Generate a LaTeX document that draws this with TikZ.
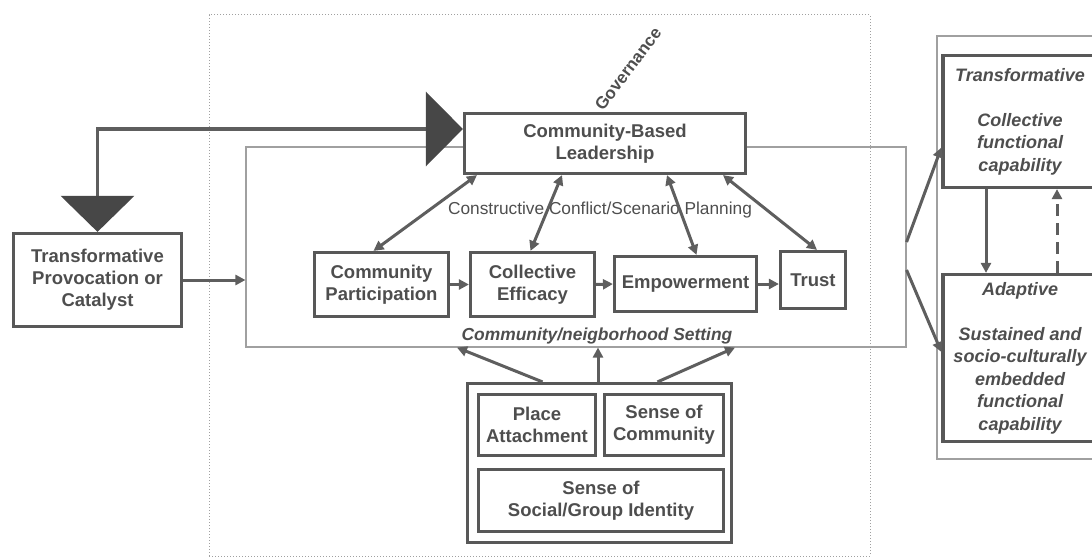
\documentclass[tikz,border=0pt]{standalone}
\usepackage{fontspec}
\setmainfont{Liberation Sans}
\usetikzlibrary{arrows.meta,calc}
\definecolor{ink}{HTML}{4E4E4E}
\definecolor{boxc}{HTML}{585858}
\definecolor{arrc}{HTML}{5E5E5E}
\definecolor{tric}{HTML}{474747}
\definecolor{thinc}{HTML}{A0A0A0}
\definecolor{dotc}{HTML}{A0A0A0}
\begin{document}
\begin{tikzpicture}[x=1pt,y=-1pt,
  bx/.style={draw=boxc,fill=white,line width=3.2pt,text=ink,
    font=\fontsize{18.5}{22}\selectfont\bfseries,align=center,inner sep=0pt},
  ibx/.style={bx,font=\fontsize{18}{22.5}\selectfont\bfseries\itshape},
  frame/.style={draw=thinc,line width=1.1pt,inner sep=0pt},
  conn/.style={draw=arrc,line width=3pt,-{Triangle[length=10pt,width=10pt]}},
  dconn/.style={draw=arrc,line width=3pt,{Triangle[length=10pt,width=10pt]}-{Triangle[length=10pt,width=10pt]}},
  bigconn/.style={draw=arrc,line width=3.5pt,
    {Triangle[length=36pt,width=73pt,color=tric]}-{Triangle[length=37pt,width=74pt,color=tric]}},
  lbl/.style={text=ink,inner sep=0pt}
]
\useasboundingbox (0,0) rectangle (1092,559);
\clip (0,0) rectangle (1092,559);

% frames
\node[draw=dotc,dotted,line width=1pt,inner sep=0pt,minimum width=661pt,minimum height=541pt] (outer) at (539.5,285.5) {};
\node[frame,minimum width=660pt,minimum height=200pt] (setting) at (576,247) {};
\node[frame,minimum width=166pt,minimum height=423pt] (rframe) at (1020,247.5) {};

% main boxes
\node[bx,minimum width=168pt,minimum height=93pt] (catalyst) at (97.5,280) {Transformative\\Provocation or\\Catalyst};
\node[bx,minimum width=281pt,minimum height=60pt] (lead) at (605,143.5) {Community-Based\\Leadership};
\node[bx,minimum width=134pt,minimum height=64pt] (part) at (381.5,284.5) {Community\\Participation};
\node[bx,minimum width=124pt,minimum height=64pt] (eff) at (532.5,284.5) {Collective\\Efficacy};
\node[bx,minimum width=142pt,minimum height=55pt] (emp) at (685.5,284) {Empowerment};
\node[bx,minimum width=65pt,minimum height=57pt] (trust) at (813,280) {Trust};

% bottom group
\node[bx,minimum width=264pt,minimum height=159pt] (roots) at (599.5,463) {};
\node[bx,minimum width=117pt,minimum height=61pt] (place) at (537,425) {Place\\Attachment};
\node[bx,minimum width=119pt,minimum height=61pt] (soc) at (664,425) {Sense of\\Community};
\node[bx,minimum width=245pt,minimum height=62pt] (ident) at (601,500.5) {Sense of\\Social/Group Identity};

% right boxes
\node[ibx,minimum width=154pt,minimum height=132pt] (trans) at (1020,121.5) {Transformative\\[22.5pt]Collective\\functional\\capability};
\node[ibx,minimum width=154pt,minimum height=167pt] (adapt) at (1020,358) {Adaptive\\[22.5pt]Sustained and\\socio-culturally\\embedded\\functional\\capability};

% labels
\node[lbl,font=\fontsize{17}{19}\selectfont\bfseries,rotate=53,anchor=base west] (gov) at (603,112) {Governance};
\node[lbl,font=\fontsize{17.3}{20}\selectfont] (ccsp) at (600,210) {Constructive Conflict/Scenario Planning};
\node[lbl,font=\fontsize{17.4}{20}\selectfont\bfseries\itshape] (settinglbl) at (597,336) {Community/neigborhood Setting};

% big provocation connector
\draw[bigconn] (catalyst.north) |- ([yshift=14.5pt]lead.west);

% catalyst into setting
\draw[conn] (catalyst.east) -- (catalyst.east -| setting.west);

% chain
\draw[conn] (part.east) -- (eff.west);
\draw[conn] (eff.east) -- (emp.west);
\draw[conn] (emp.east) -- (emp.east -| trust.west);

% leadership double arrows
\draw[dconn] ([xshift=-128pt]lead.south) -- ([xshift=-8pt]part.north);
\draw[dconn] ([xshift=-43pt]lead.south) -- ([xshift=-2pt]eff.north);
\draw[dconn] ([xshift=62pt]lead.south) -- ([xshift=11pt]emp.north);
\draw[dconn] ([xshift=118pt]lead.south) -- ([xshift=4pt]trust.north);

% roots up into setting
\draw[conn] ([xshift=-57pt]roots.north) -- ([xshift=-119pt]setting.south);
\draw[conn] ([xshift=-1.5pt]roots.north) -- ([xshift=22pt]setting.south);
\draw[conn] ([xshift=58pt]roots.north) -- ([xshift=159pt]setting.south);

% setting to outcomes
\draw[conn] ([yshift=5pt]setting.east) -- ([yshift=-26pt]trans.west);
\draw[conn] ([yshift=-23pt]setting.east) -- ([yshift=6pt]adapt.west);

% between outcomes
\draw[conn] ([xshift=-34pt]trans.south) -- ([xshift=-34pt]adapt.north);
\draw[conn,dashed,dash pattern=on 12pt off 7pt] ([xshift=37pt]adapt.north) -- ([xshift=37pt]trans.south);
\end{tikzpicture}
\end{document}
